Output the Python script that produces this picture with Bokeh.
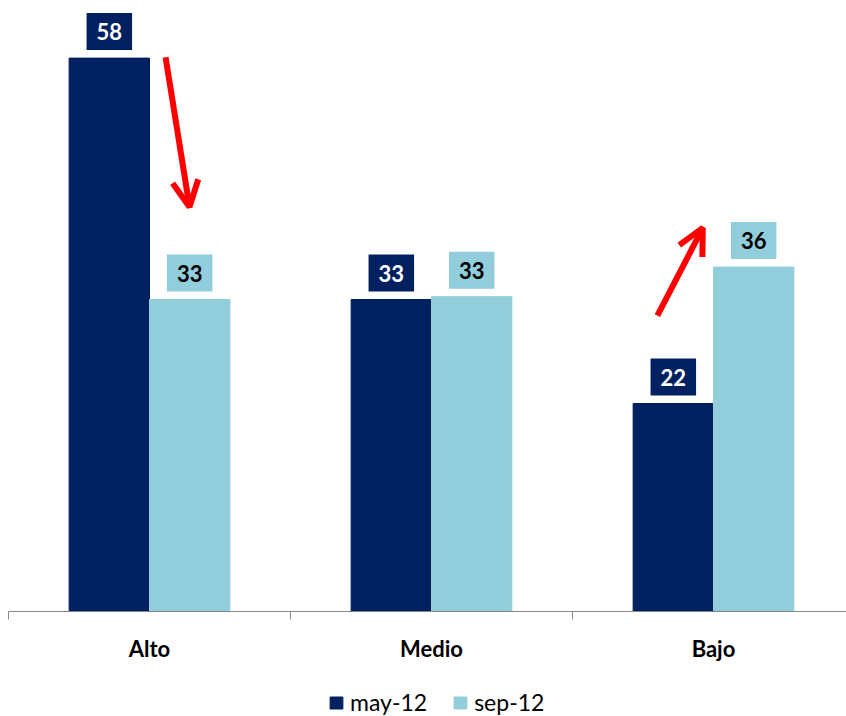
from bokeh.plotting import figure
from bokeh.layouts import column
from bokeh.models import ColumnDataSource, FixedTicker, Arrow, OpenHead, Legend, LegendItem
from bokeh.transform import dodge
from bokeh.core.properties import value
from bokeh.embed import file_html
from bokeh.resources import INLINE

# ---- data ----
categories = ["Alto", "Medio", "Bajo"]
may_12 = [58, 32.7, 21.8]
sep_12 = [32.7, 33.0, 36.1]
series_names = ["may-12", "sep-12"]

# arrow annotations (start -> end), in data units
alto_arrow = [0.557, 58.1, 0.642, 42.4]
bajo_arrow = [2.301, 31.0, 2.462, 40.2]

MAY_COLOR = "#002060"
SEP_COLOR = "#92CDDC"
FONT = "Lato"
CAT_PX = 282
OFF = 0.1425
BAR_W = 0.285

xpos = [i + 0.5 for i in range(len(categories))]
src = ColumnDataSource(dict(
    x=xpos, may=may_12, sep=sep_12,
    may_lbl=[f"{v:.0f}" for v in may_12],
    sep_lbl=[f"{v:.0f}" for v in sep_12],
))

p = figure(width=846, height=671,
           x_range=(0, 838 / CAT_PX), y_range=(0, 63.2),
           output_backend="svg", toolbar_location=None,
           y_axis_location=None,
           min_border_left=8, min_border_right=0,
           min_border_top=8, min_border_bottom=60)
p.outline_line_color = None
p.grid.visible = False
p.background_fill_color = "white"

r_may = p.vbar(x=dodge("x", -OFF), top="may", bottom=0, width=BAR_W, source=src,
               fill_color=MAY_COLOR, line_color=MAY_COLOR)
r_sep = p.vbar(x=dodge("x", OFF), top="sep", bottom=0, width=BAR_W, source=src,
               fill_color=SEP_COLOR, line_color=SEP_COLOR)

common = dict(text_align="center", text_baseline="bottom", y_offset=-8,
              text_font=value(FONT), text_font_style="bold", text_font_size="22px",
              padding=10, source=src)
p.text(x=dodge("x", -OFF), y="may", text="may_lbl", text_color="white",
       background_fill_color=MAY_COLOR, **common)
p.text(x=dodge("x", OFF), y="sep", text="sep_lbl", text_color="black",
       background_fill_color=SEP_COLOR, **common)

for a in (alto_arrow, bajo_arrow):
    p.add_layout(Arrow(x_start=a[0], y_start=a[1], x_end=a[2], y_end=a[3],
                       line_color="red", line_width=6,
                       end=OpenHead(line_color="red", line_width=6, size=26)))

ax = p.xaxis[0]
ax.ticker = FixedTicker(ticks=xpos, minor_ticks=[0, 1, 2])
ax.major_label_overrides = {x: c for x, c in zip(xpos, categories)}
ax.major_tick_line_color = None
ax.major_tick_out = 0
ax.major_tick_in = 0
ax.minor_tick_in = 0
ax.minor_tick_out = 8
ax.minor_tick_line_color = "#868686"
ax.axis_line_color = "#868686"
ax.major_label_standoff = 15
ax.major_label_text_font = FONT
ax.major_label_text_font_style = "bold"
ax.major_label_text_font_size = "22px"
ax.major_label_text_color = "black"

# legend strip below the chart (its swatch renderers sit outside the visible range)
lg = figure(width=846, height=45, x_range=(0, 1), y_range=(0, 1),
            output_backend="svg", toolbar_location=None,
            x_axis_location=None, y_axis_location=None,
            min_border_left=0, min_border_right=0,
            min_border_top=0, min_border_bottom=0)
lg.outline_line_color = None
lg.grid.visible = False
l_may = lg.vbar(x=[-5], top=[-5], bottom=[-6], width=0.1,
                fill_color=MAY_COLOR, line_color=MAY_COLOR)
l_sep = lg.vbar(x=[-5], top=[-5], bottom=[-6], width=0.1,
                fill_color=SEP_COLOR, line_color=SEP_COLOR)

legend = Legend(items=[LegendItem(label=series_names[0], renderers=[l_may]),
                       LegendItem(label=series_names[1], renderers=[l_sep])],
                orientation="horizontal", location=(320, 0),
                glyph_width=16, glyph_height=15, label_standoff=6, spacing=25,
                label_text_font=FONT, label_text_font_size="23px",
                label_text_color="black",
                padding=0, margin=0, border_line_color=None,
                background_fill_alpha=0)
lg.add_layout(legend, "center")

layout = column(p, lg)
open("out.html", "w").write(file_html(layout, INLINE))
